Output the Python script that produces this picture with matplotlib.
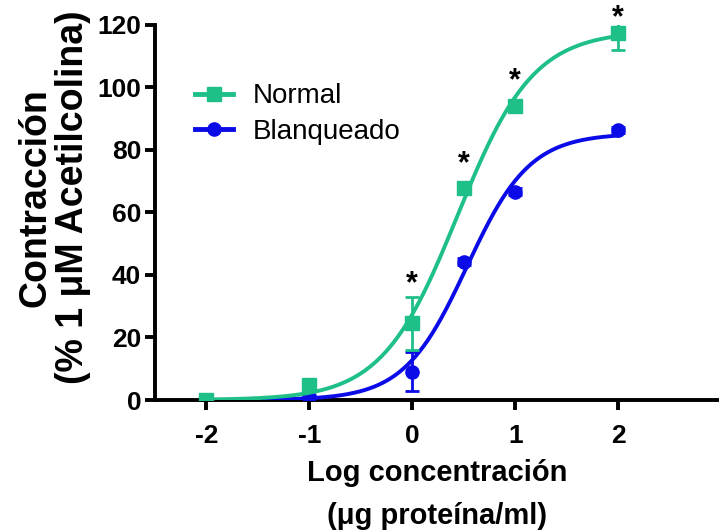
import numpy as np
import matplotlib
matplotlib.use("Agg")
import matplotlib.pyplot as plt
from matplotlib.lines import Line2D

# ---------------- data ----------------
log_conc = [-2, -1, 0, 0.5, 1, 2]
normal_mean = [0.0, 4.8, 24.5, 67.8, 94.0, 117.4]
normal_sem = [0.8, 1.0, 8.6, 1.5, 1.5, 5.4]
blanq_mean = [0.0, 1.0, 9.0, 44.3, 66.7, 86.3]
blanq_sem = [0.5, 0.5, 6.2, 1.0, 1.0, 1.0]
star_x = [0, 0.5, 1, 2]
star_y = [37.0, 75.5, 102.0, 122.3]
xticks = [-2, -1, 0, 1, 2]
yticks = [0, 20, 40, 60, 80, 100, 120]
green = "#1FC088"
blue = "#0B0BE8"

plt.rcParams["font.family"] = ["Liberation Sans", "DejaVu Sans"]
plt.rcParams["axes.unicode_minus"] = False


def hill_fit(x, y):
    x = np.asarray(x, float)
    y = np.asarray(y, float)
    best = None
    for ec in np.linspace(-0.5, 1.5, 201):
        for h in np.linspace(0.5, 3.0, 126):
            f = 1.0 / (1.0 + 10 ** ((ec - x) * h))
            top = (y @ f) / (f @ f)
            r = np.sum((y - top * f) ** 2)
            if best is None or r < best[0]:
                best = (r, ec, h, top)
    return best[1:]


fig = plt.figure(figsize=(7.19, 5.31), dpi=100)
ax = fig.add_axes([0.2156, 0.2467, 0.7844, 0.7063])

xs = np.linspace(-2, 2, 400)
for mean, sem, col, mk, lab, z in [
    (blanq_mean, blanq_sem, blue, "o", "Blanqueado", 3),
    (normal_mean, normal_sem, green, "s", "Normal", 4),
]:
    ec, h, top = hill_fit(log_conc, mean)
    ax.plot(xs, top / (1 + 10 ** ((ec - xs) * h)), color=col, lw=2.8, zorder=z)
    ax.errorbar(log_conc, mean, yerr=sem, fmt=mk, color=col, ms=9.5,
                capsize=4.8, capthick=2, elinewidth=2, zorder=z + 0.5)

handles = [Line2D([], [], color=green, marker="s", ms=9.5, lw=3.5),
           Line2D([], [], color=blue, marker="o", ms=9.5, lw=3.5)]
ax.legend(handles, ["Normal", "Blanqueado"], loc="upper left",
          bbox_to_anchor=(0.071, 0.844), frameon=False, fontsize=20,
          handlelength=1.37, handletextpad=0.72, labelspacing=0.33,
          borderpad=0, borderaxespad=0)

for sx, sy in zip(star_x, star_y):
    ax.text(sx, sy, "*", ha="center", va="center", fontsize=22,
            fontweight="bold", clip_on=False)

ax.set_xlim(-2.5, 2.98)
ax.set_ylim(0, 120)
ax.set_xticks(xticks)
ax.set_yticks(yticks)
for s in ["top", "right"]:
    ax.spines[s].set_visible(False)
for s in ["left", "bottom"]:
    ax.spines[s].set_linewidth(2.8)
ax.tick_params(width=2.8, length=7, labelsize=19)
ax.tick_params(axis="x", pad=10)
ax.tick_params(axis="y", pad=3)
for lbl in ax.get_xticklabels() + ax.get_yticklabels():
    lbl.set_fontweight("bold")

ax.set_xlabel("Log concentración\n(\u03bcg proteína/ml)", fontsize=21,
              fontweight="bold", linespacing=1.7, labelpad=8)
ax.set_ylabel("Contracción\n(% 1 \u03bcM Acetilcolina)", fontsize=27,
              fontweight="bold", linespacing=1.05)
ax.yaxis.set_label_coords(-0.113, 0.54)

fig.savefig("out.png", dpi=100)
